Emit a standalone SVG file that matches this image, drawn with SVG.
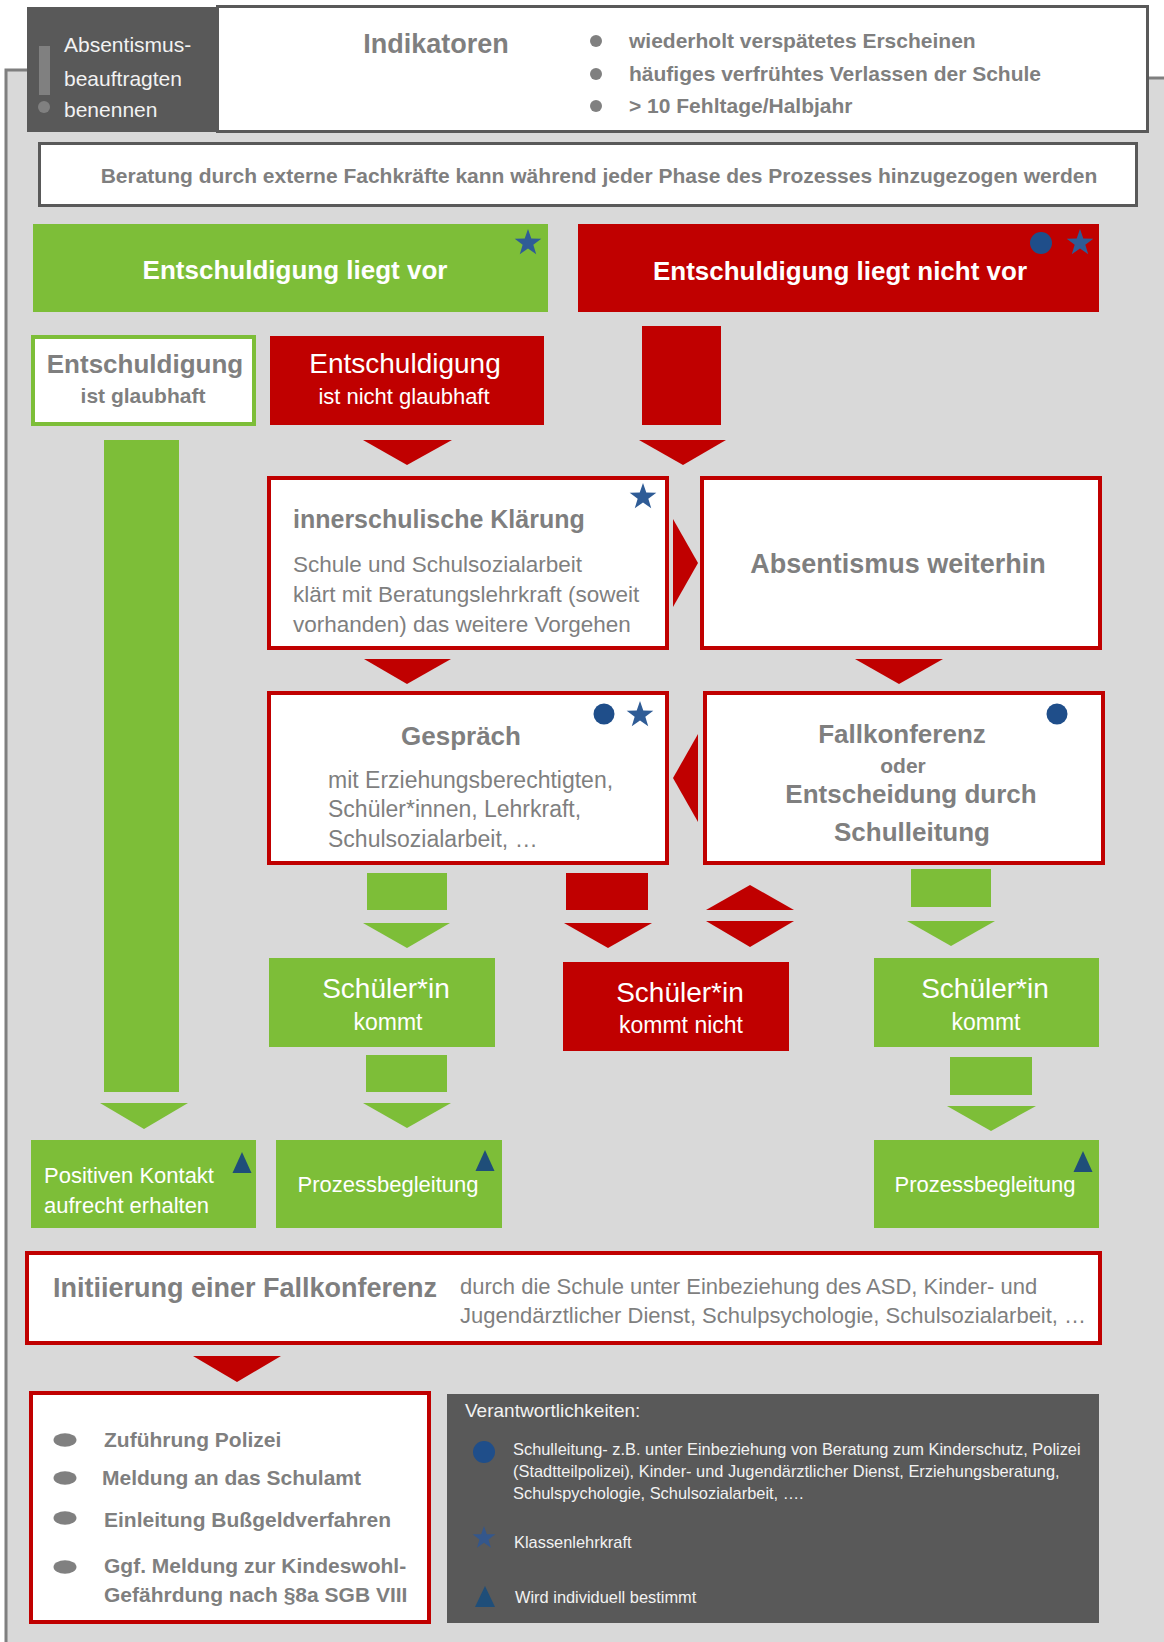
<svg xmlns="http://www.w3.org/2000/svg" width="1164" height="1642" viewBox="0 0 1164 1642">
<style>
text { font-family: "Liberation Sans", Arial, sans-serif; }
.gt { fill: #7f7f7f; }
.wt { fill: #ffffff; }
.lt { fill: #f2f2f2; }
.b { font-weight: bold; }
.mid { text-anchor: middle; }
.green { fill: #7dbe38; }
.red { fill: #c00000; }
.dark { fill: #595959; }
.rbox { fill: #ffffff; stroke: #c00000; stroke-width: 4; }
.gbox { fill: #ffffff; stroke: #595959; stroke-width: 3; }
.circ { fill: #1f4e8a; }
.starc { fill: #2f5c96; }
.tri { fill: #1f4e79; }
.bul { fill: #808080; }
</style>
<defs>
<path id="star" d="M0,-14 L3.29,-4.53 L13.31,-4.33 L5.33,1.73 L8.23,11.33 L0,5.6 L-8.23,11.33 L-5.33,1.73 L-13.31,-4.33 L-3.29,-4.53 Z"/>
<path id="mtri" d="M0,0 L9.5,21 L-9.5,21 Z"/>
</defs>

<rect x="0" y="0" width="1164" height="1642" fill="#ffffff"/>
<g id="panel">
<polygon points="6,70 300,70 300,78 1164,78 1164,1642 6,1642" fill="#d9d9d9"/>
<polyline points="6,1642 6,70 30,70" fill="none" stroke="#7f7f7f" stroke-width="3"/>
<line x1="1140" y1="78" x2="1164" y2="78" stroke="#7f7f7f" stroke-width="3"/>
</g>

<g id="connectors">
<rect class="green" x="104" y="440" width="75" height="652"/>
<polygon class="green" points="100,1103 188,1103 144,1129"/>
<polygon class="red" points="363,440 452,440 407,465"/>
<rect class="red" x="642" y="326" width="79" height="99"/>
<polygon class="red" points="639,440 726,440 683,465"/>
<polygon class="red" points="673,519 698,563 673,607"/>
<polygon class="red" points="364,659 451,659 407,684"/>
<polygon class="red" points="855,659 943,659 899,684"/>
<polygon class="red" points="698,734 673,778 698,822"/>
<rect class="green" x="367" y="873" width="80" height="37"/>
<polygon class="green" points="363,923 450,923 407,948"/>
<rect class="red" x="566" y="873" width="82" height="37"/>
<polygon class="red" points="564,923 652,923 608,948"/>
<polygon class="red" points="706,910 794,910 750,885"/>
<polygon class="red" points="706,921 794,921 750,947"/>
<rect class="green" x="911" y="869" width="80" height="38"/>
<polygon class="green" points="907,921 995,921 951,946"/>
<rect class="green" x="366" y="1055" width="81" height="37"/>
<polygon class="green" points="363,1103 451,1103 407,1128"/>
<rect class="green" x="950" y="1057" width="82" height="38"/>
<polygon class="green" points="947,1106 1036,1106 991,1131"/>
<polygon class="red" points="193,1356 281,1356 237,1382"/>
</g>

<g id="n-beauftragte">
<rect class="dark" x="27" y="7" width="191" height="125"/>
<rect class="bul" x="39" y="46" width="11" height="49"/>
<circle class="bul" cx="44" cy="107" r="6"/>
<text class="lt" x="64" y="52" font-size="21">Absentismus-</text>
<text class="lt" x="64" y="86" font-size="21">beauftragten</text>
<text class="lt" x="64" y="117" font-size="21">benennen</text>
</g>

<g id="n-indikatoren">
<rect class="gbox" x="217.5" y="6.5" width="930" height="125"/>
<text class="gt b mid" x="436" y="53" font-size="27">Indikatoren</text>
<circle class="bul" cx="596" cy="41" r="6"/>
<circle class="bul" cx="596" cy="74" r="6"/>
<circle class="bul" cx="596" cy="106" r="6"/>
<text class="gt b" x="629" y="48" font-size="21">wiederholt verspätetes Erscheinen</text>
<text class="gt b" x="629" y="81" font-size="21">häufiges verfrühtes Verlassen der Schule</text>
<text class="gt b" x="629" y="113" font-size="21">&gt; 10 Fehltage/Halbjahr</text>
</g>

<g id="n-beratung">
<rect class="gbox" x="39.5" y="143.5" width="1097" height="62"/>
<text class="gt b mid" x="599" y="183" font-size="21">Beratung durch externe Fachkräfte kann während jeder Phase des Prozesses hinzugezogen werden</text>
</g>

<g id="n-liegt-vor">
<rect class="green" x="33" y="224" width="515" height="88"/>
<text class="wt b mid" x="295" y="279" font-size="26">Entschuldigung liegt vor</text>
<use href="#star" class="starc" x="528" y="243"/>
</g>

<g id="n-liegt-nicht-vor">
<rect class="red" x="578" y="224" width="521" height="88"/>
<text class="wt b mid" x="840" y="280" font-size="26">Entschuldigung liegt nicht vor</text>
<circle class="circ" cx="1041" cy="243" r="11"/>
<use href="#star" class="starc" x="1080" y="243"/>
</g>

<g id="n-glaubhaft">
<rect x="33" y="337" width="221" height="87" fill="#ffffff" stroke="#7dbe38" stroke-width="4"/>
<text class="gt b mid" x="145" y="373" font-size="26">Entschuldigung</text>
<text class="gt b mid" x="143" y="403" font-size="21">ist glaubhaft</text>
</g>

<g id="n-nicht-glaubhaft">
<rect class="red" x="270" y="336" width="274" height="89"/>
<text class="wt mid" x="405" y="373" font-size="28">Entschuldigung</text>
<text class="wt mid" x="404" y="404" font-size="22">ist nicht glaubhaft</text>
</g>

<g id="n-innerschulisch">
<rect class="rbox" x="269" y="478" width="398" height="170"/>
<text class="gt b" x="293" y="528" font-size="25">innerschulische Klärung</text>
<use href="#star" class="starc" x="643" y="497"/>
<text class="gt" x="293" y="572" font-size="22.5">Schule und Schulsozialarbeit</text>
<text class="gt" x="293" y="602" font-size="22.5">klärt mit Beratungslehrkraft (soweit</text>
<text class="gt" x="293" y="632" font-size="22.5">vorhanden) das weitere Vorgehen</text>
</g>

<g id="n-absentismus">
<rect class="rbox" x="702" y="478" width="398" height="170"/>
<text class="gt b mid" x="898" y="573" font-size="27">Absentismus weiterhin</text>
</g>

<g id="n-gespraech">
<rect class="rbox" x="269" y="693" width="398" height="170"/>
<text class="gt b mid" x="461" y="745" font-size="26">Gespräch</text>
<circle class="circ" cx="604" cy="714" r="10.5"/>
<use href="#star" class="starc" x="640" y="715"/>
<text class="gt" x="328" y="788" font-size="23">mit Erziehungsberechtigten,</text>
<text class="gt" x="328" y="817" font-size="23">Schüler*innen, Lehrkraft,</text>
<text class="gt" x="328" y="847" font-size="23">Schulsozialarbeit, …</text>
</g>

<g id="n-fallkonferenz">
<rect class="rbox" x="705" y="693" width="398" height="170"/>
<circle class="circ" cx="1057" cy="714" r="10.5"/>
<text class="gt b mid" x="902" y="743" font-size="26">Fallkonferenz</text>
<text class="gt b mid" x="903" y="773" font-size="21">oder</text>
<text class="gt b mid" x="911" y="803" font-size="26">Entscheidung durch</text>
<text class="gt b mid" x="912" y="841" font-size="26">Schulleitung</text>
</g>

<g id="n-kommt-1">
<rect class="green" x="269" y="958" width="226" height="89"/>
<text class="wt mid" x="386" y="998" font-size="28">Schüler*in</text>
<text class="wt mid" x="388" y="1030" font-size="23">kommt</text>
</g>

<g id="n-kommt-nicht">
<rect class="red" x="563" y="962" width="226" height="89"/>
<text class="wt mid" x="680" y="1002" font-size="28">Schüler*in</text>
<text class="wt mid" x="681" y="1033" font-size="23">kommt nicht</text>
</g>

<g id="n-kommt-2">
<rect class="green" x="874" y="958" width="225" height="89"/>
<text class="wt mid" x="985" y="998" font-size="28">Schüler*in</text>
<text class="wt mid" x="986" y="1030" font-size="23">kommt</text>
</g>

<g id="n-positiv">
<rect class="green" x="31" y="1140" width="225" height="88"/>
<text class="wt" x="44" y="1183" font-size="22">Positiven Kontakt</text>
<text class="wt" x="44" y="1213" font-size="22">aufrecht erhalten</text>
<use href="#mtri" class="tri" x="242" y="1152"/>
</g>

<g id="n-prozess-1">
<rect class="green" x="276" y="1140" width="226" height="88"/>
<text class="wt mid" x="388" y="1192" font-size="22">Prozessbegleitung</text>
<use href="#mtri" class="tri" x="485" y="1150"/>
</g>

<g id="n-prozess-2">
<rect class="green" x="874" y="1140" width="225" height="88"/>
<text class="wt mid" x="985" y="1192" font-size="22">Prozessbegleitung</text>
<use href="#mtri" class="tri" x="1083" y="1151"/>
</g>

<g id="n-initiierung">
<rect class="rbox" x="27" y="1253" width="1073" height="90"/>
<text class="gt b" x="53" y="1297" font-size="27">Initiierung einer Fallkonferenz</text>
<text class="gt" x="460" y="1294" font-size="22">durch die Schule unter Einbeziehung des ASD, Kinder- und</text>
<text class="gt" x="460" y="1323" font-size="22">Jugendärztlicher Dienst, Schulpsychologie, Schulsozialarbeit, …</text>
</g>

<g id="n-massnahmen">
<rect class="rbox" x="31" y="1393" width="398" height="229"/>
<ellipse class="bul" cx="65" cy="1440" rx="11.5" ry="6.7"/>
<ellipse class="bul" cx="65" cy="1478" rx="11.5" ry="6.7"/>
<ellipse class="bul" cx="65" cy="1518" rx="11.5" ry="6.7"/>
<ellipse class="bul" cx="65" cy="1567" rx="11.5" ry="6.7"/>
<text class="gt b" x="104" y="1447" font-size="21">Zuführung Polizei</text>
<text class="gt b" x="102" y="1485" font-size="21">Meldung an das Schulamt</text>
<text class="gt b" x="104" y="1527" font-size="21">Einleitung Bußgeldverfahren</text>
<text class="gt b" x="104" y="1573" font-size="21">Ggf. Meldung zur Kindeswohl-</text>
<text class="gt b" x="104" y="1602" font-size="21">Gefährdung nach §8a SGB VIII</text>
</g>

<g id="n-legende">
<rect class="dark" x="447" y="1394" width="652" height="229"/>
<text class="lt" x="465" y="1417" font-size="19">Verantwortlichkeiten:</text>
<circle class="circ" cx="484" cy="1452" r="11"/>
<text class="lt" x="513" y="1455" font-size="16.4">Schulleitung- z.B. unter Einbeziehung von Beratung zum Kinderschutz, Polizei</text>
<text class="lt" x="513" y="1477" font-size="16.4">(Stadtteilpolizei), Kinder- und Jugendärztlicher Dienst, Erziehungsberatung,</text>
<text class="lt" x="513" y="1499" font-size="16.4">Schulspychologie, Schulsozialarbeit, ….</text>
<use href="#star" fill="#34578c" transform="translate(484,1538) scale(0.85)"/>
<text class="lt" x="514" y="1548" font-size="16.4">Klassenlehrkraft</text>
<path class="tri" d="M485,1586 L495,1607 L475,1607 Z"/>
<text class="lt" x="515" y="1603" font-size="16.4">Wird individuell bestimmt</text>
</g>
</svg>
